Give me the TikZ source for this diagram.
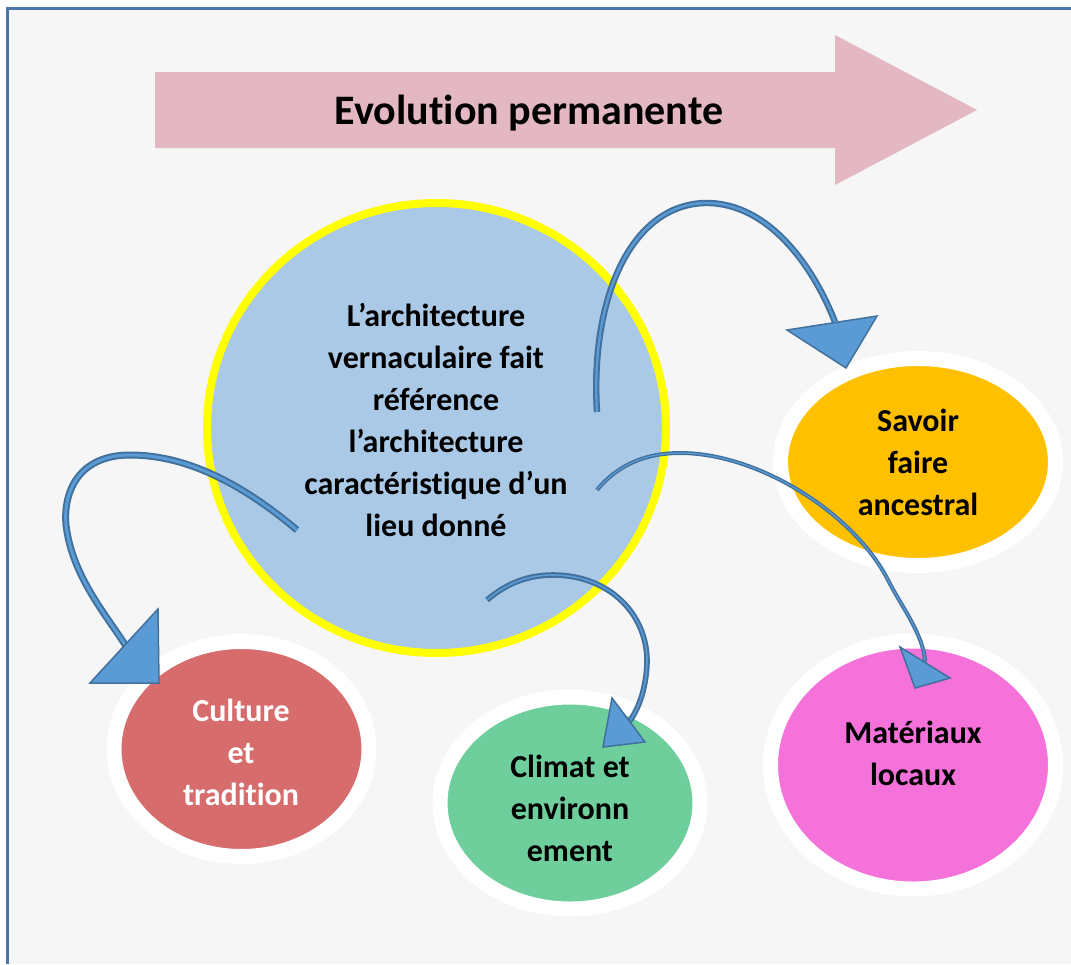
\documentclass[tikz,border=0pt]{standalone}
\usepackage{fontspec}
\setmainfont{Carlito}[Ligatures=NoCommon]
\usetikzlibrary{shapes.geometric}
\definecolor{framec}{HTML}{4A76A8}
\definecolor{bgc}{HTML}{F6F6F6}
\definecolor{pinkc}{HTML}{E3B8C2}
\definecolor{mainc}{HTML}{AAC9E6}
\definecolor{yellowc}{HTML}{FFFF00}
\definecolor{orangec}{HTML}{FFC000}
\definecolor{magc}{HTML}{F472D9}
\definecolor{greenc}{HTML}{6ECF9D}
\definecolor{redc}{HTML}{D76C6C}
\definecolor{bdark}{HTML}{41719C}
\definecolor{blight}{HTML}{5B9BD5}
\tikzset{
  ring/.style={ellipse, draw=white, line width=15pt, inner sep=0pt},
  txt/.style={font=\fontsize{32}{42}\selectfont\bfseries, align=center, inner sep=0pt},
  shaft/.style={draw=bdark, double=blight, double distance=#1, line width=2pt},
  head/.style={fill=blight, draw=bdark, line width=1.5pt, line join=miter}
}
\begin{document}
\begin{tikzpicture}[x=1pt,y=-1pt]
\useasboundingbox (0,0) rectangle (1071,964);
% background and frame
\fill[white] (0,0) rectangle (1071,964);
\fill[bgc] (7,8) rectangle (1071,964);
\draw[framec, line width=3pt] (7,964) -- (7,8) -- (1071,8);
% big pink arrow
\fill[pinkc] (155,72) -- (835,72) -- (835,35) -- (977,110) -- (835,185) -- (835,148) -- (155,148) -- cycle;
\node[font=\fontsize{42}{50}\selectfont\bfseries, inner sep=0pt] (title) at (529,113) {Evolution permanente};
% ellipses
\node[ellipse, draw=yellowc, fill=mainc, line width=8pt, inner sep=0pt,
      minimum width=459pt, minimum height=450pt] (main) at (436.5,428) {};
\node[txt] (mainT) at (436,420) {L’architecture\\vernaculaire fait\\référence\\l’architecture\\caractéristique d’un\\lieu donné};
\node[ring, fill=orangec, minimum width=275pt, minimum height=207pt] (savoir) at (918,462) {};
\node[txt] (savoirT) at (918,462) {Savoir\\faire\\ancestral};
\node[ring, fill=magc, minimum width=285pt, minimum height=248pt] (mat) at (913,765) {};
\node[txt] (matT) at (913,753) {Matériaux\\locaux};
\node[ring, fill=greenc, minimum width=260pt, minimum height=212pt] (climat) at (570,803) {};
\node[txt] (climatT) at (570,808) {Climat et\\environn\\ement};
\node[ring, fill=redc, minimum width=255pt, minimum height=215pt] (culture) at (241.5,749) {};
\node[txt, text=white] (cultureT) at (241,752) {Culture\\et\\tradition};
% connector end points
\coordinate (s1) at (597,412);
\coordinate (e1) at (835,322);
\coordinate (s2) at (297,530);
\coordinate (e2) at (126,646);
\coordinate (s3) at (487,600);
\coordinate (e3) at (629,722);
\coordinate (s4) at (597,490);
\coordinate (e4) at (925,662);
% arrow 1 -> savoir
\draw[shaft=2.4pt] (s1) .. controls (590,300) and (630,205) .. (705,203) .. controls (770,202) and (815,270) .. (e1);
\path[head] (787,330) -- (877,316) -- (846,368) -- cycle;
% arrow 2 -> culture
\draw[shaft=3pt] (s2) .. controls (240,482) and (185,455) .. (130,455) .. controls (80,455) and (63,490) .. (66,525) .. controls (72,575) and (104,612) .. (e2);
\path[head] (158,609) -- (159,683) -- (90,683) -- cycle;
% arrow 3 -> climat
\draw[shaft=1.6pt] (s3) .. controls (508,582) and (530,575) .. (553,575) .. controls (610,575) and (648,615) .. (647,663) .. controls (646,690) and (638,710) .. (e3);
\path[head] (612,698) -- (645,742) -- (603,747) -- cycle;
% arrow 4 -> materiaux
\draw[shaft=1.2pt, line width=1.4pt] (s4) .. controls (620,462) and (650,453) .. (680,453) .. controls (760,453) and (855,515) .. (888,580) .. controls (901,606) and (924,635) .. (e4);
\path[head] (900,647) -- (950,678) -- (915,688) -- cycle;
\end{tikzpicture}
\end{document}
